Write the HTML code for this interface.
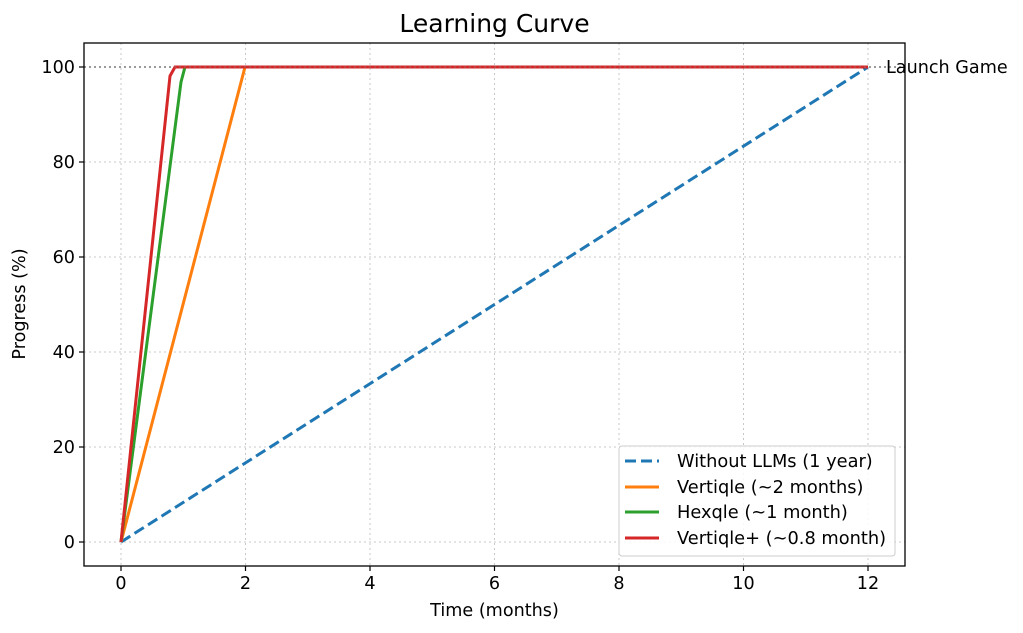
<!DOCTYPE html><html><head><meta charset="utf-8"><style>body{margin:0;background:#fff}svg{display:block;font-family:"DejaVu Sans","Liberation Sans",sans-serif}</style></head><body>
<svg width="1023" height="633" viewBox="0 0 1023 633">
<rect width="1023" height="633" fill="#fff"/>
<g stroke="#c8c8c8" stroke-width="1" stroke-dasharray="2,3">
<line x1="121" y1="43" x2="121" y2="566"/><line x1="245.5" y1="43" x2="245.5" y2="566"/><line x1="370" y1="43" x2="370" y2="566"/><line x1="494.5" y1="43" x2="494.5" y2="566"/><line x1="619" y1="43" x2="619" y2="566"/><line x1="743.5" y1="43" x2="743.5" y2="566"/><line x1="868" y1="43" x2="868" y2="566"/>
<line x1="84" y1="542" x2="905" y2="542"/><line x1="84" y1="447" x2="905" y2="447"/><line x1="84" y1="352" x2="905" y2="352"/><line x1="84" y1="257" x2="905" y2="257"/><line x1="84" y1="162" x2="905" y2="162"/>
</g>
<line x1="84" y1="67" x2="905" y2="67" stroke="#808080" stroke-width="1.5" stroke-dasharray="2,3"/>
<line x1="121" y1="542" x2="868" y2="67" stroke="#1f77b4" stroke-width="3" stroke-dasharray="11,5"/>
<polyline points="121,542 245,67 868,67" fill="none" stroke="#ff7f0e" stroke-width="3"/>
<polyline points="121,542 181,82 185,67 868,67" fill="none" stroke="#2ca02c" stroke-width="3"/>
<polyline points="121,542 170,76 175,67 868,67" fill="none" stroke="#d62728" stroke-width="3"/>
<line x1="84" y1="67" x2="905" y2="67" stroke="#808080" stroke-width="1.2" stroke-dasharray="2,3" opacity="0.6"/>
<rect x="84" y="43" width="821" height="523" fill="none" stroke="#000" stroke-width="1.3"/>
<g stroke="#000" stroke-width="1.2">
<line x1="121" y1="566" x2="121" y2="571"/><line x1="245.5" y1="566" x2="245.5" y2="571"/><line x1="370" y1="566" x2="370" y2="571"/><line x1="494.5" y1="566" x2="494.5" y2="571"/><line x1="619" y1="566" x2="619" y2="571"/><line x1="743.5" y1="566" x2="743.5" y2="571"/><line x1="868" y1="566" x2="868" y2="571"/>
<line x1="79" y1="542" x2="84" y2="542"/><line x1="79" y1="447" x2="84" y2="447"/><line x1="79" y1="352" x2="84" y2="352"/><line x1="79" y1="257" x2="84" y2="257"/><line x1="79" y1="162" x2="84" y2="162"/><line x1="79" y1="67" x2="84" y2="67"/>
</g>
<g font-size="17.6" fill="#000" text-anchor="middle">
<text x="121" y="589">0</text><text x="245.5" y="589">2</text><text x="370" y="589">4</text><text x="494.5" y="589">6</text><text x="619" y="589">8</text><text x="743.5" y="589">10</text><text x="868" y="589">12</text>
</g>
<g font-size="17.6" fill="#000" text-anchor="end">
<text x="75" y="548">0</text><text x="75" y="453">20</text><text x="75" y="358">40</text><text x="75" y="263">60</text><text x="75" y="168">80</text><text x="75" y="73">100</text>
</g>
<text x="494.5" y="616" font-size="17.6" text-anchor="middle">Time (months)</text>
<text transform="translate(25,304) rotate(-90)" font-size="17.6" text-anchor="middle">Progress (%)</text>
<text x="494.5" y="32" font-size="25" text-anchor="middle">Learning Curve</text>
<text x="886" y="73" font-size="17.6">Launch Game</text>
<rect x="619" y="446" width="276" height="110" rx="3" fill="#fff" fill-opacity="0.85" stroke="#ccc"/>
<line x1="625" y1="461" x2="659" y2="461" stroke="#1f77b4" stroke-width="3" stroke-dasharray="11,5"/>
<line x1="625" y1="487" x2="659" y2="487" stroke="#ff7f0e" stroke-width="3"/>
<line x1="625" y1="512" x2="659" y2="512" stroke="#2ca02c" stroke-width="3"/>
<line x1="625" y1="538" x2="659" y2="538" stroke="#d62728" stroke-width="3"/>
<g font-size="17.8"><text x="677" y="467">Without LLMs (1 year)</text><text x="677" y="493">Vertiqle (~2 months)</text><text x="677" y="518">Hexqle (~1 month)</text><text x="677" y="544">Vertiqle+ (~0.8 month)</text></g>
</svg></body></html>
